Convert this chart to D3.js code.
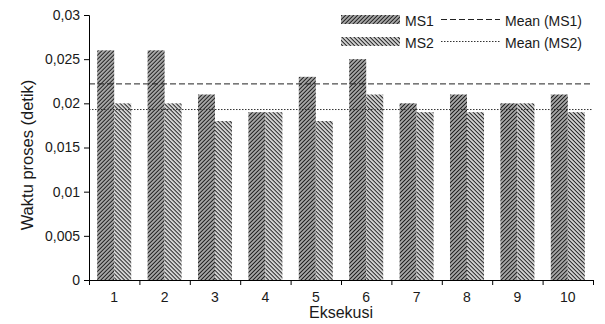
<!DOCTYPE html>
<html><head><meta charset="utf-8">
<script src="https://cdn.jsdelivr.net/npm/d3@7"></script>
<style>
body{margin:0;background:#fff;}
text{font-family:"Liberation Sans",Arial,sans-serif;fill:#1a1a1a;}
</style></head>
<body>
<svg id="chart" width="605" height="324"></svg>
<script>
const categories = ["1","2","3","4","5","6","7","8","9","10"];
const series = ["MS1","MS2"];
const ms1 = [0.026,0.026,0.021,0.019,0.023,0.025,0.020,0.021,0.020,0.021];
const ms2 = [0.020,0.020,0.018,0.019,0.018,0.021,0.019,0.019,0.020,0.019];
const yTicks = [0,0.005,0.01,0.015,0.02,0.025,0.03];
const yTickLabels = ["0","0,005","0,01","0,015","0,02","0,025","0,03"];
const legendLabels = ["MS1","MS2","Mean (MS1)","Mean (MS2)"];
const yTitle = "Waktu proses (detik)";
const xTitle = "Eksekusi";

const svg = d3.select("#chart");
const L = 89, R = 593, T = 15, B = 280;

const defs = svg.append("defs");
function pat(id, bg, angle){
  const p = defs.append("pattern").attr("id", id)
    .attr("patternUnits","userSpaceOnUse").attr("width",2.83).attr("height",10)
    .attr("patternTransform",`rotate(${angle})`);
  p.append("rect").attr("width",2.83).attr("height",10).attr("fill",bg);
  p.append("rect").attr("width",0.9).attr("height",10).attr("fill","#1a1a1a");
}
pat("pMS1","#a8a8a8",45);
pat("pMS2","#d2d2d2",-45);
const fills = {MS1:"url(#pMS1)", MS2:"url(#pMS2)"};

const x0 = d3.scaleBand().domain(categories).range([L,R]).paddingInner(0.325).paddingOuter(0.1625);
const x1 = d3.scaleBand().domain(series).range([0,x0.bandwidth()]);
const y = d3.scaleLinear().domain([0,0.03]).range([B,T]);
const xb = d3.scaleLinear().domain([0,categories.length]).range([L,R]);

const values = {MS1:ms1, MS2:ms2};
const g = svg.append("g");
categories.forEach((c,i)=>{
  series.forEach(s=>{
    g.append("rect")
      .attr("x", x0(c)+x1(s)).attr("width", x1.bandwidth())
      .attr("y", y(values[s][i])).attr("height", y(0)-y(values[s][i]))
      .attr("fill", fills[s]);
  });
});

const mean1 = d3.mean(ms1), mean2 = d3.mean(ms2);
svg.append("line").attr("x1",L).attr("x2",R).attr("y1",y(mean1)).attr("y2",y(mean1))
  .attr("stroke","#222").attr("stroke-width",1).attr("stroke-dasharray","6,3");
svg.append("line").attr("x1",L).attr("x2",R).attr("y1",y(mean2)).attr("y2",y(mean2))
  .attr("stroke","#333").attr("stroke-width",1).attr("stroke-dasharray","1.5,1.5");

// Y axis
const ya = svg.append("g").attr("transform",`translate(${L},0)`)
  .call(d3.axisLeft(y).tickValues(yTicks).tickFormat((d,i)=>yTickLabels[i]).tickSize(5).tickPadding(4));
ya.select(".domain").attr("stroke","#000");
ya.selectAll(".tick line").attr("stroke","#000");
ya.selectAll("text").style("font-size","14px").attr("fill","#1a1a1a");

// X axis ticks at boundaries
const xa = svg.append("g").attr("transform",`translate(0,${B})`)
  .call(d3.axisBottom(xb).tickValues(d3.range(0,categories.length+1)).tickFormat("").tickSize(5));
xa.select(".domain").attr("stroke","#000");
xa.selectAll(".tick line").attr("stroke","#000");
const xl = svg.append("g").attr("transform",`translate(0,${B})`)
  .call(d3.axisBottom(x0).tickSize(0).tickPadding(12));
xl.select(".domain").remove();
xl.selectAll("text").style("font-size","14px").attr("fill","#1a1a1a");

// titles
svg.append("text").attr("transform",`translate(33,155) rotate(-90)`)
  .attr("text-anchor","middle").style("font-size","16.5px").text(yTitle);
svg.append("text").attr("x",(L+R)/2).attr("y",318)
  .attr("text-anchor","middle").style("font-size","16px").text(xTitle);

// legend
const lg = svg.append("g");
[[0,"MS1",15],[1,"MS2",37]].forEach(([i,s,yy])=>{
  lg.append("rect").attr("x",341).attr("y",yy).attr("width",59).attr("height",9).attr("fill",fills[s]);
  lg.append("text").attr("x",405).attr("y",yy+10.5).style("font-size","14px").text(legendLabels[i]);
});
lg.append("line").attr("x1",441).attr("x2",500).attr("y1",19.5).attr("y2",19.5)
  .attr("stroke","#222").attr("stroke-dasharray","6,3");
lg.append("text").attr("x",505).attr("y",25.5).style("font-size","14px").text(legendLabels[2]);
lg.append("line").attr("x1",441).attr("x2",500).attr("y1",41.5).attr("y2",41.5)
  .attr("stroke","#333").attr("stroke-dasharray","1.5,1.5");
lg.append("text").attr("x",505).attr("y",47.5).style("font-size","14px").text(legendLabels[3]);
</script>
</body></html>
